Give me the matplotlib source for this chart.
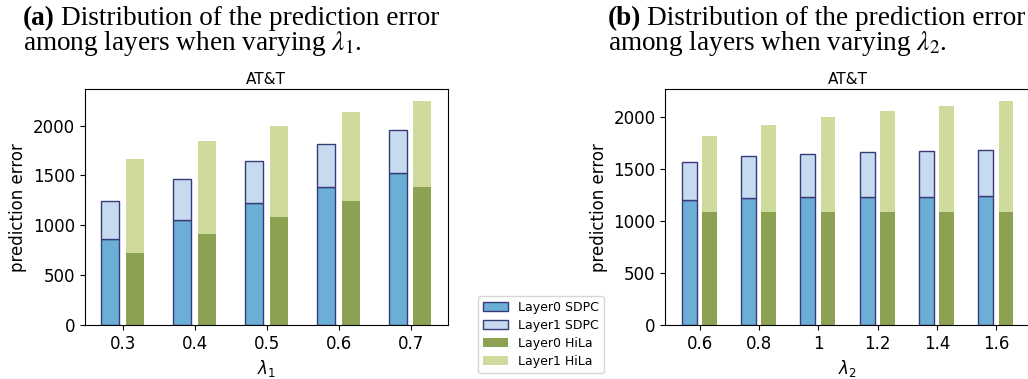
import matplotlib
matplotlib.use("Agg")
import matplotlib.pyplot as plt
import numpy as np
from matplotlib.patches import Patch

# lambda_1 sweep
lam1 = ["0.3", "0.4", "0.5", "0.6", "0.7"]
sdpc_l0_a = [863, 1050, 1221, 1385, 1522]
sdpc_total_a = [1247, 1462, 1645, 1813, 1960]
hila_l0_a = [722, 916, 1087, 1244, 1385]
hila_total_a = [1662, 1843, 1993, 2134, 2251]

# lambda_2 sweep
lam2 = ["0.6", "0.8", "1", "1.2", "1.4", "1.6"]
sdpc_l0_b = [1199, 1221, 1228, 1234, 1234, 1237]
sdpc_total_b = [1571, 1625, 1647, 1660, 1676, 1683]
hila_l0_b = [1090, 1090, 1090, 1090, 1090, 1090]
hila_total_b = [1814, 1923, 1997, 2054, 2109, 2157]

C_SDPC0 = "#6baed6"
C_SDPC1 = "#c6dbef"
C_HILA0 = "#8ca252"
C_HILA1 = "#cedb9c"
C_EDGE = "#393b79"

W = 1028
H = 379
fig = plt.figure(figsize=(W / 100, H / 100), dpi=100)


def draw_panel(ax, labels, s0, stot, h0, htot, xlab):
    x = np.arange(len(labels))
    s1 = np.array(stot) - np.array(s0)
    h1 = np.array(htot) - np.array(h0)
    w = 0.25
    xs = x - 0.175
    xh = x + 0.165
    ax.bar(xs, s0, w, color=C_SDPC0, edgecolor=C_EDGE, linewidth=1.0)
    ax.bar(xs, s1, w, bottom=s0, color=C_SDPC1, edgecolor=C_EDGE, linewidth=1.0)
    ax.bar(xh, h0, w, color=C_HILA0)
    ax.bar(xh, h1, w, bottom=h0, color=C_HILA1)
    ax.set_xticks(x)
    ax.set_xticklabels(labels)
    ax.set_title("AT&T", fontsize=11, pad=4)
    ax.set_ylabel("prediction error", fontsize=12)
    ax.set_xlabel(xlab, fontsize=12)
    ax.tick_params(labelsize=12)
    ax.set_yticks([0, 500, 1000, 1500, 2000])


ax1 = fig.add_axes([84.7 / W, 1 - 325 / H, (448 - 84.7) / W, (325 - 89.3) / H])
draw_panel(ax1, lam1, sdpc_l0_a, sdpc_total_a, hila_l0_a, hila_total_a, r"$\lambda_1$")

ax2 = fig.add_axes([665.3 / W, 1 - 325 / H, (1030 - 665.3) / W, (325 - 89.3) / H])
draw_panel(ax2, lam2, sdpc_l0_b, sdpc_total_b, hila_l0_b, hila_total_b, r"$\lambda_2$")

handles = [
    Patch(facecolor=C_SDPC0, edgecolor=C_EDGE, label="Layer0 SDPC"),
    Patch(facecolor=C_SDPC1, edgecolor=C_EDGE, label="Layer1 SDPC"),
    Patch(facecolor=C_HILA0, label="Layer0 HiLa"),
    Patch(facecolor=C_HILA1, label="Layer1 HiLa"),
]
fig.legend(handles=handles, loc="upper left", bbox_to_anchor=(478 / W, 1 - 296 / H),
           fontsize=9, frameon=True, borderaxespad=0, labelspacing=0.4)

# captions above each panel
cap_kw = dict(fontsize=19.6, family="Liberation Serif", math_fontfamily="stix", va="baseline")
renderer = fig.canvas.get_renderer()


def caption(x0, tag, line1, line2):
    t = fig.text(x0 / W, 1 - 25 / H, tag, fontweight="bold", **cap_kw)
    bb = t.get_window_extent(renderer)
    fig.text(bb.x1 / W + 6 / W, 1 - 25 / H, line1, **cap_kw)
    fig.text(x0 / W, 1 - 50 / H, line2, **cap_kw)


caption(23, "(a)", "Distribution of the prediction error",
        r"among layers when varying $\lambda_1$.")
caption(608, "(b)", "Distribution of the prediction error",
        r"among layers when varying $\lambda_2$.")

fig.savefig("out.png", dpi=100)
